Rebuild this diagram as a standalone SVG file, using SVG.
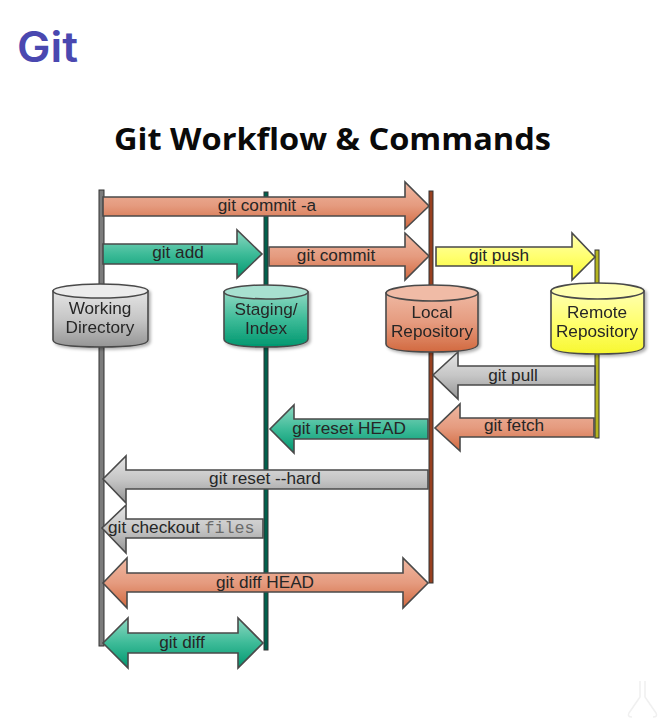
<svg xmlns="http://www.w3.org/2000/svg" width="667" height="718" viewBox="0 0 667 718">
<style>
.a{stroke:#4a4a4a;stroke-width:1.6;stroke-linejoin:miter}
.life{stroke:#333;stroke-width:1}
.l{font-family:"Liberation Sans",Arial,sans-serif;font-size:17.2px;fill:#262626;text-anchor:middle}
.m{font-family:"Liberation Mono","Courier New",monospace;font-size:16.7px;fill:#6a6a6a}
.cyl{stroke:#4a4a4a;stroke-width:1.6}
.r{fill:url(#red)}.g{fill:url(#grn)}.y{fill:url(#yel)}.k{fill:url(#gry)}
</style>
<defs>
<linearGradient id="red" x1="0" y1="0" x2="0" y2="1"><stop offset="0" stop-color="#efb8a2"/><stop offset=".5" stop-color="#e59b7f"/><stop offset="1" stop-color="#d2693f"/></linearGradient>
<linearGradient id="grn" x1="0" y1="0" x2="0" y2="1"><stop offset="0" stop-color="#8fd8c2"/><stop offset=".5" stop-color="#3dbb98"/><stop offset="1" stop-color="#00976f"/></linearGradient>
<linearGradient id="yel" x1="0" y1="0" x2="0" y2="1"><stop offset="0" stop-color="#ffffb0"/><stop offset=".5" stop-color="#ffff70"/><stop offset="1" stop-color="#f7f730"/></linearGradient>
<linearGradient id="gry" x1="0" y1="0" x2="0" y2="1"><stop offset="0" stop-color="#e4e4e4"/><stop offset=".5" stop-color="#c6c6c6"/><stop offset="1" stop-color="#959595"/></linearGradient>
<filter id="sh" x="-10%" y="-10%" width="125%" height="125%"><feDropShadow dx="2" dy="2" stdDeviation="1.5" flood-color="#000" flood-opacity=".3"/></filter>
</defs>
<rect width="667" height="718" fill="#fff"/>
<text x="17" y="62" font-family="Inter,'Open Sans',sans-serif" font-size="42" font-weight="600" fill="#4a48b0" textLength="61" lengthAdjust="spacingAndGlyphs">Git</text>
<text x="332.500" y="150" font-family="'Open Sans',sans-serif" font-size="31" font-weight="700" fill="#0a0a0a" text-anchor="middle" textLength="437" lengthAdjust="spacingAndGlyphs">Git Workflow &amp; Commands</text>
<g id="lifelines">
<rect class="life" x="99" y="190" width="5" height="456" fill="#7c7c7c"/>
<rect class="life" x="264" y="192" width="4" height="458" fill="#00604c"/>
<rect class="life" x="429" y="191" width="4" height="392" fill="#98401f"/>
<rect class="life" x="595" y="250" width="4" height="188" fill="#b5b520"/>
</g>
<g id="working-directory" filter="url(#sh)">
<path class="cyl k" d="M53 291V340Q53 347 100.500 347Q148 347 148 340V291Z"/>
<ellipse class="cyl" cx="100.500" cy="291" rx="47.500" ry="7" fill="#ececec"/>
<text class="l" x="100" y="314">Working</text><text class="l" x="100" y="333">Directory</text>
</g>
<g id="staging-index" filter="url(#sh)">
<path class="cyl g" d="M224 292V339Q224 347 266 347Q308 347 308 339V292Z"/>
<ellipse class="cyl" cx="266" cy="292" rx="42" ry="7" fill="#a8e0d0"/>
<text class="l" x="266" y="315">Staging/</text><text class="l" x="266" y="334">Index</text>
</g>
<g id="local-repository" filter="url(#sh)">
<path class="cyl r" d="M386 293V344Q386 352 432 352Q478 352 478 344V293Z"/>
<ellipse class="cyl" cx="432" cy="293" rx="46" ry="8" fill="#f0bba6"/>
<text class="l" x="432" y="318">Local</text><text class="l" x="432" y="337">Repository</text>
</g>
<g id="remote-repository" filter="url(#sh)">
<path class="cyl y" d="M551 291V346Q551 354 597.500 354Q644 354 644 346V291Z"/>
<ellipse class="cyl" cx="597.500" cy="291" rx="46.500" ry="8" fill="#ffffb0"/>
<text class="l" x="597" y="318">Remote</text><text class="l" x="597" y="337">Repository</text>
</g>
<g id="connectors">
<polygon class="a r" points="103,197 405,197 405,182 429,206 405,229 405,216 103,216"/>
<polygon class="a g" points="103,244 237,244 237,230 262,254 237,278 237,264 103,264"/>
<polygon class="a r" points="269,247 405,247 405,233 429,256 405,280 405,266 269,266"/>
<polygon class="a y" points="436,247 572,247 572,233 595,257 572,280 572,266 436,266"/>
<polygon class="a k" points="595,366 458,366 458,352 433,375 458,399 458,385 595,385"/>
<polygon class="a r" points="594,418 460,418 460,404 435,428 460,451 460,437 594,437"/>
<polygon class="a g" points="428,419 294,419 294,405 270,429 294,453 294,439 428,439"/>
<polygon class="a k" points="428,470 126,470 126,456 103,479 126,503 126,489 428,489"/>
<polygon class="a k" points="263,519 126,519 126,505 102,528 126,553 126,538 263,538"/>
<polygon class="a r" points="127,573 403,573 403,558 428,583 403,608 403,592 127,592 127,608 103,583 127,558"/>
<polygon class="a g" points="128,633 238,633 238,618 263,643 238,668 238,653 128,653 128,668 103,643 128,618"/>
<text class="l" x="267" y="211">git commit -a</text>
<text class="l" x="178" y="258">git add</text>
<text class="l" x="336" y="261">git commit</text>
<text class="l" x="499" y="261">git push</text>
<text class="l" x="513" y="381">git pull</text>
<text class="l" x="514" y="431">git fetch</text>
<text class="l" x="349" y="434">git reset HEAD</text>
<text class="l" x="265" y="484">git reset --hard</text>
<text class="l" x="108" y="533" style="text-anchor:start">git checkout <tspan class="m">files</tspan></text>
<text class="l" x="265" y="588">git diff HEAD</text>
<text class="l" x="182" y="648">git diff</text>
</g>
<path d="M640 681V697L629 713Q627 717 632 717M645 681V697L656 713Q658 717 653 717" fill="none" stroke="#f0f0f0" stroke-width="1.500"/>
</svg>
